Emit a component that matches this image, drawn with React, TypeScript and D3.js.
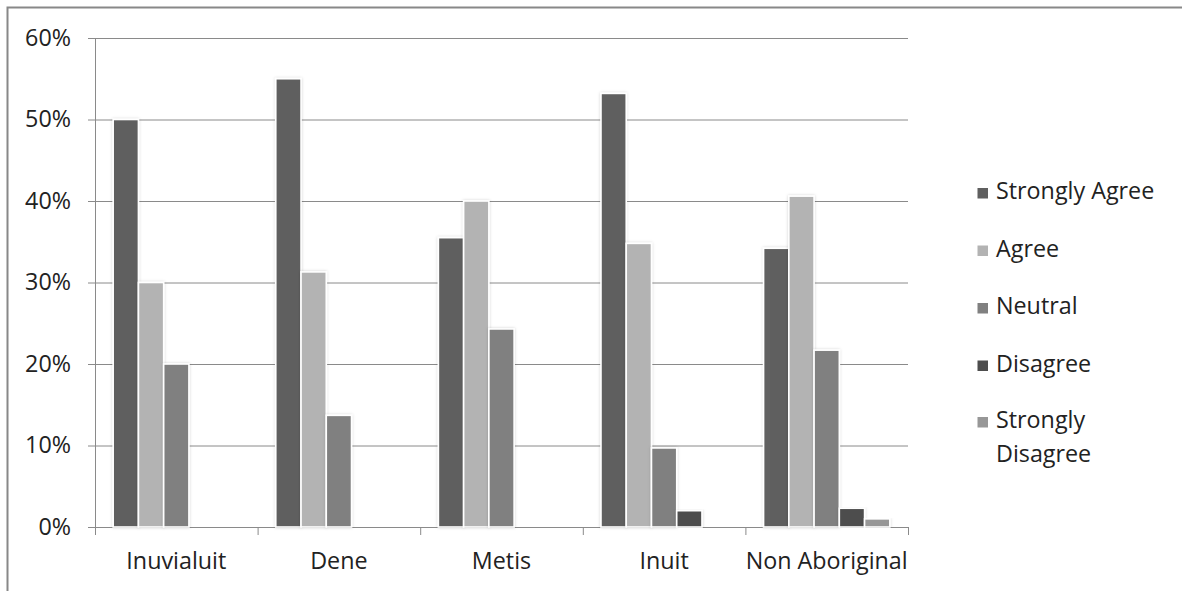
import React from "react";
import * as d3 from "d3";

const categories = ["Inuvialuit", "Dene", "Metis", "Inuit", "Non Aboriginal"];
const seriesNames = ["Strongly Agree", "Agree", "Neutral", "Disagree", "Strongly Disagree"];
const stronglyAgree = [50, 55, 35.5, 53.2, 34.2];
const agree = [30, 31.3, 40, 34.8, 40.6];
const neutral = [20, 13.7, 24.3, 9.7, 21.7];
const disagree = [0, 0, 0, 2, 2.3];
const stronglyDisagree = [0, 0, 0, 0, 1.0];
const yTicks = [0, 10, 20, 30, 40, 50, 60];

const seriesValues = [stronglyAgree, agree, neutral, disagree, stronglyDisagree];
const colors = ["#5f5f5f", "#b3b3b3", "#808080", "#4d4d4d", "#979797"];

export default function App() {
  const W = 1182, H = 591;
  const left = 95, right = 908, top = 38, bottom = 527;
  const x0 = d3.scaleBand().domain(categories).range([left, right]).paddingInner(0).paddingOuter(0);
  const x1 = d3.scaleBand().domain(seriesNames).range([0, x0.bandwidth()]).paddingOuter(0.72).paddingInner(0);
  const y = d3.scaleLinear().domain([0, 60]).range([bottom, top]);
  const font = "'Open Sans', sans-serif";
  const fs = 23.3;
  const boundaries = d3.range(categories.length + 1).map((i) => left + i * x0.bandwidth());

  return (
    <svg width={W} height={H} style={{ position: "absolute", left: 0, top: 0 }}>
      <defs>
        <filter id="sh" x="-20%" y="-5%" width="140%" height="110%">
          <feDropShadow dx="0" dy="0" stdDeviation="1.5" floodColor="#000" floodOpacity="0.18" />
        </filter>
      </defs>
      <rect x={0} y={0} width={W} height={H} fill="#fff" />
      <rect x={7.5} y={7.5} width={W + 10} height={H + 10} fill="none" stroke="#888" strokeWidth={2} />
      {yTicks.map((t) => (
        <g key={t}>
          <line x1={88} x2={right} y1={y(t) + 0.5} y2={y(t) + 0.5} stroke="#8a8a8a" strokeWidth={1} />
          <text x={71} y={y(t) + 7.5} textAnchor="end" fontFamily={font} fontSize={fs} fill="#222">
            {t}%
          </text>
        </g>
      ))}
      <line x1={left + 0.5} x2={left + 0.5} y1={top} y2={bottom} stroke="#8a8a8a" />
      {boundaries.map((b, i) => (
        <line key={i} x1={b + 0.5} x2={b + 0.5} y1={bottom} y2={bottom + 8} stroke="#8a8a8a" />
      ))}
      {categories.map((c, ci) => (
        <g key={c}>
          {seriesNames.map((s, si) => {
            const v = seriesValues[si][ci];
            if (v <= 0) return null;
            const bx = (x0(c) as number) + (x1(s) as number);
            return (
              <rect
                key={s}
                x={bx}
                y={y(v)}
                width={x1.bandwidth()}
                height={bottom - y(v)}
                fill={colors[si]}
                stroke="#fff"
                strokeWidth={1.6}
                filter="url(#sh)"
              />
            );
          })}
          <text
            x={(x0(c) as number) + x0.bandwidth() / 2}
            y={569}
            textAnchor="middle"
            fontFamily={font}
            fontSize={fs}
            fill="#222"
          >
            {c}
          </text>
        </g>
      ))}
      {seriesNames.map((s, i) => {
        const by = [199, 256.5, 314, 371.5, 428][i];
        const lines = s === "Strongly Disagree" ? ["Strongly", "Disagree"] : [s];
        return (
          <g key={s}>
            <rect x={977.5} y={by - 11} width={10.5} height={10.5} fill={colors[i]} />
            {lines.map((l, li) => (
              <text key={li} x={996} y={by + li * 33.5} fontFamily={font} fontSize={fs} fill="#222">
                {l}
              </text>
            ))}
          </g>
        );
      })}
    </svg>
  );
}
